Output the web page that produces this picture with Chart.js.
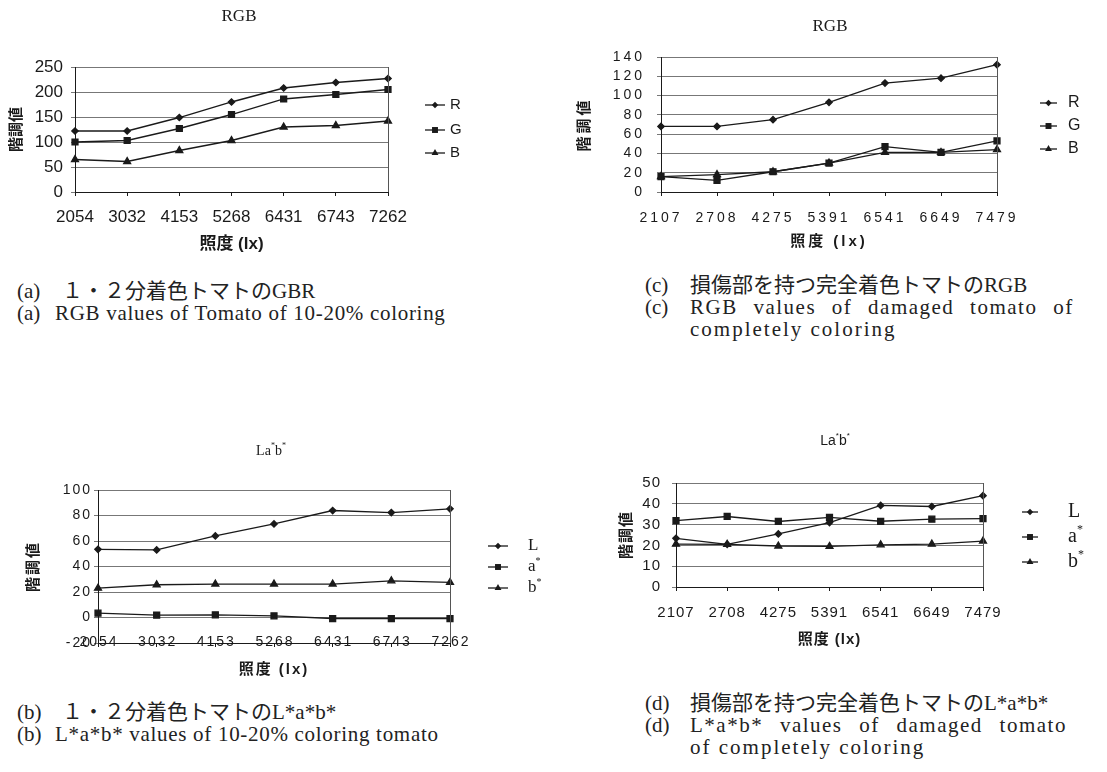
<!DOCTYPE html>
<html>
<head>
<meta charset="utf-8">
<script src="https://cdn.jsdelivr.net/npm/chart.js@4.4.1/dist/chart.umd.min.js"></script>
<style>
  body { margin: 0; background: #fff; width: 1107px; height: 772px; position: relative; overflow: hidden; }
  canvas { position: absolute; }
  .cap { position: absolute; font-family: "Liberation Serif", "Noto Sans CJK JP", serif; font-size: 21px;
         line-height: 22px; color: #222; white-space: nowrap; }
  .en1 { letter-spacing: 0.7px; }
  .en2 { letter-spacing: 1.5px; word-spacing: 9px; }
  .en3 { letter-spacing: 2px; }
</style>
</head>
<body>
<canvas id="chartA" width="480" height="262" style="left:0;top:0"></canvas>
<canvas id="chartC" width="547" height="262" style="left:560px;top:0"></canvas>
<canvas id="chartB" width="560" height="250" style="left:0;top:440px"></canvas>
<canvas id="chartD" width="547" height="230" style="left:560px;top:430px"></canvas>

<div class="cap" style="left:17px;top:280px">(a)</div>
<div class="cap" style="left:62px;top:280px">１・２分着色トマトのGBR</div>
<div class="cap" style="left:17px;top:302px">(a)</div>
<div class="cap en1" style="left:55px;top:302px">RGB values of Tomato of 10-20% coloring</div>

<div class="cap" style="left:645px;top:274px">(c)</div>
<div class="cap" style="left:690px;top:274px">損傷部を持つ完全着色トマトのRGB</div>
<div class="cap" style="left:645px;top:296px">(c)</div>
<div class="cap en2" style="left:690px;top:296px">RGB values of damaged tomato of</div>
<div class="cap en3" style="left:690px;top:318px">completely coloring</div>

<div class="cap" style="left:17px;top:701px">(b)</div>
<div class="cap" style="left:62px;top:701px">１・２分着色トマトのL*a*b*</div>
<div class="cap" style="left:17px;top:723px">(b)</div>
<div class="cap en1" style="left:55px;top:723px">L*a*b* values of 10-20% coloring tomato</div>

<div class="cap" style="left:645px;top:692px">(d)</div>
<div class="cap" style="left:690px;top:692px">損傷部を持つ完全着色トマトのL*a*b*</div>
<div class="cap" style="left:645px;top:714px">(d)</div>
<div class="cap en2" style="left:690px;top:714px;word-spacing:10px">L*a*b* values of damaged tomato</div>
<div class="cap en3" style="left:690px;top:736px">of completely coloring</div>

<script>
// (a) RGB, 10-20% coloring
var luxA = ['2054', '3032', '4153', '5268', '6431', '6743', '7262'];
var rA = [122, 122, 149, 180, 208, 219, 227];
var gA = [100, 103, 127, 155, 186, 195, 205];
var bA = [65, 61, 83, 103, 130, 133, 142];

// (c) RGB, damaged, completely colored
var luxC = ['2107', '2708', '4275', '5391', '6541', '6649', '7479'];
var rC = [68, 68, 75, 93, 113, 118, 132];
var gC = [16, 12, 21, 30, 47, 41, 53];
var bC = [16, 18, 21, 30, 41, 41, 44];

// (b) L*a*b*, 10-20% coloring
var lB = [53.5, 53, 64, 73.4, 83.9, 82.3, 85.2];
var aB = [3.4, 1.8, 2.1, 1.3, -0.8, -0.8, -0.8];
var bB = [23, 25.7, 26.2, 26.2, 26.2, 28.8, 27.5];

// (d) L*a*b*, damaged, completely colored
var lD = [23.4, 20.5, 25.5, 31, 39.2, 38.7, 43.9];
var aD = [31.9, 33.9, 31.5, 33.5, 31.6, 32.6, 32.9];
var bD = [20.6, 20.5, 19.7, 19.5, 20.3, 20.6, 22.1];

var SANS = "'Liberation Sans', 'Noto Sans CJK JP', sans-serif";
var CJK = "'Noto Sans CJK JP', sans-serif";
var SERIF = "'Liberation Serif', serif";
var INK = '#1a1a1a';

function marker(ctx, style, x, y, r) {
  ctx.fillStyle = INK;
  ctx.beginPath();
  if (style === 'rect') {
    var h = r / Math.SQRT2;
    ctx.rect(x - h, y - h, 2 * h, 2 * h);
  } else if (style === 'triangle') {
    ctx.moveTo(x, y - r);
    ctx.lineTo(x + r * 0.866, y + r * 0.5);
    ctx.lineTo(x - r * 0.866, y + r * 0.5);
  } else {
    ctx.moveTo(x, y - r); ctx.lineTo(x + r, y); ctx.lineTo(x, y + r); ctx.lineTo(x - r, y);
  }
  ctx.closePath();
  ctx.fill();
}

// text with optional superscript asterisks
function richText(ctx, text, x, y, size, family, align, sup) {
  var parts = [];
  var w = 0;
  for (var i = 0; i < text.length; i++) {
    var s = sup && text[i] === '*';
    ctx.font = (s ? Math.round(size * 0.6) : size) + 'px ' + family;
    var pw = ctx.measureText(text[i]).width;
    parts.push({ t: text[i], s: s, w: pw });
    w += pw;
  }
  var cx = align === 'center' ? x - w / 2 : x;
  ctx.textAlign = 'left';
  ctx.textBaseline = 'middle';
  parts.forEach(function (p) {
    ctx.font = (p.s ? Math.round(size * 0.6) : size) + 'px ' + family;
    ctx.fillText(p.t, cx, p.s ? y - size * 0.35 : y);
    cx += p.w;
  });
}

var decor = {
  id: 'decor',
  beforeDraw: function (chart, args, o) {
    chart.ctx.letterSpacing = (o.spacing || 0) + 'px';
  },
  afterDraw: function (chart, args, o) {
    var ctx = chart.ctx, a = chart.chartArea;
    ctx.save();
    // x labels sitting on the bottom axis line (chart b)
    if (o.xLabelsOnAxis) {
      var xs = chart.scales.x;
      ctx.fillStyle = INK;
      ctx.font = o.xLabelsOnAxis + 'px ' + SANS;
      ctx.textAlign = 'center';
      ctx.textBaseline = 'middle';
      chart.data.labels.forEach(function (lab, i) {
        ctx.fillText(lab, xs.getPixelForTick(i) + (o.spacing || 0) / 2, a.bottom - 1);
      });
    }
    ctx.letterSpacing = '0px';
    ctx.strokeStyle = '#555';
    ctx.lineWidth = 1;
    ctx.beginPath();
    ctx.moveTo(Math.round(a.right) + 0.5, a.top);
    ctx.lineTo(Math.round(a.right) + 0.5, a.bottom);
    ctx.stroke();
    ctx.fillStyle = INK;
    richText(ctx, o.title, o.titleX, o.titleY, o.titleSize, o.titleFamily, 'center', o.sup);
    chart.data.datasets.forEach(function (ds, i) {
      var y = o.legendY[i];
      ctx.strokeStyle = INK;
      ctx.lineWidth = 1.3;
      ctx.beginPath();
      ctx.moveTo(o.legendX[0], y);
      ctx.lineTo(o.legendX[1], y);
      ctx.stroke();
      marker(ctx, ds.pointStyle, (o.legendX[0] + o.legendX[1]) / 2, y, ds.pointRadius);
      ctx.fillStyle = INK;
      richText(ctx, ds.label, o.legendX[2], y, o.legendSize, o.legendFamily, 'left', o.sup);
    });
    ctx.restore();
  }
};

function makeChart(id, s) {
  var styles = [['rectRot', 3.2], ['rect', 4.2], ['triangle', 4]];
  var datasets = s.series.map(function (d, i) {
    return {
      label: d[0], data: d[1],
      pointStyle: styles[i][0], pointRadius: styles[i][1], pointHoverRadius: styles[i][1],
      borderColor: INK, backgroundColor: INK, borderWidth: 1.3, tension: 0, clip: false
    };
  });
  return new Chart(id, {
    type: 'line',
    data: { labels: s.labels, datasets: datasets },
    options: {
      responsive: false,
      animation: false,
      events: [],
      layout: { padding: { left: 0, top: s.area[2], right: s.w - s.area[1], bottom: 0 } },
      plugins: { legend: { display: false }, tooltip: { enabled: false }, decor: s.decor },
      scales: {
        x: {
          offset: false,
          grid: { drawOnChartArea: false, color: INK, tickLength: 4 },
          border: { color: INK },
          ticks: {
            display: !s.decor.xLabelsOnAxis,
            color: INK, font: { family: SANS, size: s.tick }, padding: s.xPad, maxRotation: 0, autoSkip: false
          },
          title: {
            display: true, text: s.xTitle, color: INK,
            font: { family: SANS, size: s.xTitleSize, weight: 'bold' },
            padding: { top: 0, bottom: s.xTitlePad }
          },
          afterFit: function (sc) { sc.height = s.h - s.area[3]; }
        },
        y: {
          min: s.y[0], max: s.y[1],
          grid: { color: '#777', tickLength: 4 },
          border: { color: INK },
          ticks: {
            stepSize: s.y[2], autoSkip: false, color: INK,
            font: { family: SANS, size: s.tick }, padding: s.yPad
          },
          title: {
            display: true, text: '階調値', color: INK,
            font: { family: CJK, size: 15, weight: 'bold' },
            padding: { top: s.yTitlePad, bottom: 0 }
          },
          afterFit: function (sc) { sc.width = s.area[0]; }
        }
      }
    },
    plugins: [decor]
  });
}

makeChart('chartA', {
  w: 480, h: 262, area: [75, 388, 67, 192],
  labels: luxA, series: [['R', rA], ['G', gA], ['B', bA]],
  y: [0, 250, 50], tick: 17, xPad: 11, yPad: 8,
  xTitle: '照度 (lx)', xTitleSize: 17, xTitlePad: 7, yTitlePad: 6,
  decor: { title: 'RGB', titleX: 239, titleY: 17, titleSize: 17, titleFamily: SERIF,
           legendX: [425, 445, 450], legendY: [105, 130, 153], legendSize: 15, legendFamily: SANS }
});

makeChart('chartC', {
  w: 547, h: 262, area: [101, 437, 57, 192],
  labels: luxC, series: [['R', rC], ['G', gC], ['B', bC]],
  y: [0, 140, 20], tick: 14, xPad: 14, yPad: 12,
  xTitle: '照度 (lx)', xTitleSize: 15, xTitlePad: 11, yTitlePad: 14,
  decor: { spacing: 3, title: 'RGB', titleX: 270, titleY: 27, titleSize: 17, titleFamily: SERIF,
           legendX: [480, 497, 508], legendY: [103, 126, 149], legendSize: 16, legendFamily: SANS }
});

makeChart('chartB', {
  w: 560, h: 250, area: [98, 450, 50, 203],
  labels: luxA, series: [['L', lB], ['a*', aB], ['b*', bB]],
  y: [-20, 100, 20], tick: 14, xPad: 4, yPad: 2,
  xTitle: '照度 (lx)', xTitleSize: 15, xTitlePad: 11, yTitlePad: 23,
  decor: { spacing: 2, sup: true, xLabelsOnAxis: 14, title: 'La*b*', titleX: 271, titleY: 11, titleSize: 14, titleFamily: SERIF,
           legendX: [488, 508, 528], legendY: [106, 127, 148], legendSize: 17, legendFamily: SERIF }
});

makeChart('chartD', {
  w: 547, h: 230, area: [116, 423, 53, 157],
  labels: luxC, series: [['L', lD], ['a*', aD], ['b*', bD]],
  y: [0, 50, 10], tick: 15, xPad: 13, yPad: 11,
  xTitle: '照度 (lx)', xTitleSize: 15, xTitlePad: 11, yTitlePad: 56,
  decor: { spacing: 1, sup: true, title: 'La*b*', titleX: 275, titleY: 11, titleSize: 14, titleFamily: SANS,
           legendX: [462, 478, 508], legendY: [82, 107, 132], legendSize: 20, legendFamily: SERIF }
});
</script>
</body>
</html>
